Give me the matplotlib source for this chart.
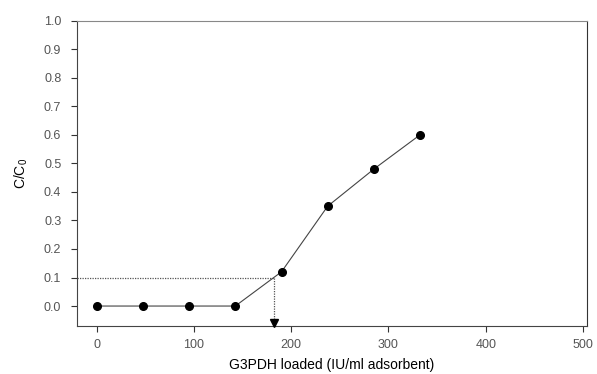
import matplotlib
matplotlib.use("Agg")
import matplotlib.pyplot as plt

plt.rcParams['font.family'] = ['Liberation Sans', 'DejaVu Sans']

# data
loaded = [0, 47.5, 95, 142.5, 190, 237.5, 285, 332.5]
c_ratio = [0.0, 0.0, 0.0, 0.0, 0.12, 0.35, 0.48, 0.60]

# 10 % breakthrough point
bt_level = 0.1
bt_load = 182.5

xticks = [0, 100, 200, 300, 400, 500]
yticks = [0.0, 0.1, 0.2, 0.3, 0.4, 0.5, 0.6, 0.7, 0.8, 0.9, 1.0]

fig = plt.figure(figsize=(5.97, 3.74), dpi=100)
ax = fig.add_axes([0.1295, 0.1283, 0.8535, 0.8164])

ax.plot(loaded, c_ratio, color='#444444', lw=0.8, zorder=2)
ax.plot(loaded, c_ratio, 'o', color='black', ms=5.5, zorder=3)

# dotted guide lines to the breakthrough capacity
ax.plot([-20, bt_load], [bt_level, bt_level], color='#555555', lw=0.9, ls=(0, (1, 1)), zorder=1)
ax.plot([bt_load, bt_load], [bt_level, -0.055], color='#555555', lw=0.9, ls=(0, (1, 1)), zorder=1)
ax.plot([bt_load], [-0.058], marker='v', color='black', ms=6, zorder=3, clip_on=False)

ax.set_xlim(-20, 504)
ax.set_ylim(-0.07, 1.0)
ax.set_xticks(xticks)
ax.set_yticks(yticks)
ax.set_yticklabels([f"{v:.1f}" for v in yticks])
ax.tick_params(direction='out', length=4.5, width=0.8, color='#333333',
               labelsize=9, labelcolor='#555555')
ax.tick_params(axis='x', pad=5)
ax.tick_params(axis='y', pad=7)
for side in ['left', 'bottom']:
    ax.spines[side].set_color('#444444')
for side in ['top', 'right']:
    ax.spines[side].set_color('#888888')
ax.spines['right'].set_color('#333333')

ax.set_xlabel('G3PDH loaded (IU/ml adsorbent)', fontsize=10, labelpad=5)
ax.set_ylabel('C/C$_\\mathregular{0}$', fontsize=10, labelpad=10)

fig.savefig('out.png', dpi=100)
